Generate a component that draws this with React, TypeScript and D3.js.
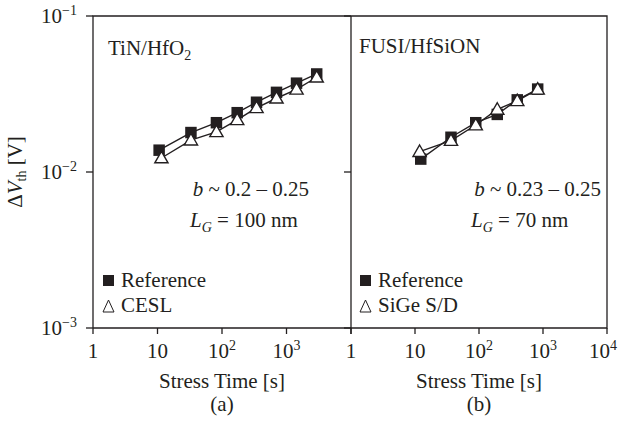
import React, { useEffect, useRef } from 'react';
import * as d3 from 'd3';

// panel (a) TiN/HfO2
const timeA = [10.6, 33, 82, 172, 343, 700, 1430, 2940];
const refA = [0.0138, 0.0179, 0.0207, 0.024, 0.028, 0.0324, 0.0371, 0.0425];
const timeCeslA = [11.5, 33, 82, 172, 343, 700, 1430, 2940];
const ceslA = [0.0123, 0.016, 0.0181, 0.0216, 0.0258, 0.0297, 0.0339, 0.0405];

// panel (b) FUSI/HfSiON
const timeB = [12.3, 36.5, 89, 193, 396, 826];
const refB = [0.0121, 0.0167, 0.0207, 0.0234, 0.029, 0.034];
const timeSigeB = [11.8, 36.5, 89, 193, 396, 826];
const sigeB = [0.0135, 0.0159, 0.02, 0.0252, 0.0286, 0.0339];

const xTicks = [1, 10, 100, 1000, 10000];
const xTickLabels = [['1', ''], ['10', ''], ['10', '2'], ['10', '3'], ['10', '4']];
const yTicks = [0.1, 0.01, 0.001];
const yTickLabels = ['\u22121', '\u22122', '\u22123'];

const INK = '#231f20';
const FONT = '"Liberation Serif", "DejaVu Serif", serif';
const FS = '21px';
const FS_SMALL = '14px';

const App: React.FC = () => {
  const ref = useRef<SVGSVGElement>(null);

  useEffect(() => {
    if (!ref.current) return;
    document.body.style.margin = '0';
    const svg = d3.select(ref.current);
    svg.selectAll('*').remove();

    const y = d3.scaleLog().domain([1e-3, 1e-1]).range([328, 16]);
    const xA = d3.scaleLog().domain([1, 1e4]).range([93, 351]);
    const xB = d3.scaleLog().domain([1, 1e4]).range([351, 607]);

    const g = svg.append('g').attr('font-family', FONT).attr('fill', INK);

    // cadre
    const frame = g.append('g').attr('stroke', INK).attr('stroke-width', 1.3).attr('fill', 'none');
    frame.append('path').attr('d', `M${xA.range()[0]},${y(1e-3)}V${y(1e-1)}H${xB.range()[1]}V${y(1e-3)}H${xA.range()[0]}`);
    frame.append('line').attr('x1', xB.range()[0]).attr('x2', xB.range()[0]).attr('y1', y(1e-1)).attr('y2', y(1e-3));

    // graduations y
    [xA.range()[0], xB.range()[0]].forEach(x0 => {
      yTicks.forEach(t => {
        frame.append('line').attr('x1', x0 - 7).attr('x2', x0).attr('y1', y(t)).attr('y2', y(t));
      });
    });
    yTicks.forEach((t, i) => {
      const txt = g.append('text').attr('x', xA.range()[0] - 16).attr('y', y(t) + 7)
        .attr('text-anchor', 'end').style('font-size', FS);
      txt.append('tspan').text('10');
      txt.append('tspan').attr('dy', -8).style('font-size', FS_SMALL).text(yTickLabels[i]);
    });

    // graduations x
    const drawX = (x: d3.ScaleLogarithmic<number, number>, skipLast: boolean, title: string, tag: string) => {
      xTicks.forEach((t, i) => {
        frame.append('line').attr('x1', x(t)).attr('x2', x(t)).attr('y1', y(1e-3)).attr('y2', y(1e-3) + 6);
        if (skipLast && i === xTicks.length - 1) return;
        const last = i === xTicks.length - 1;
        const txt = g.append('text').attr('x', last ? 617 : x(t)).attr('y', 358)
          .attr('text-anchor', last ? 'end' : 'middle').style('font-size', FS);
        txt.append('tspan').text(xTickLabels[i][0]);
        if (xTickLabels[i][1]) {
          txt.append('tspan').attr('dy', -8).style('font-size', FS_SMALL).text(xTickLabels[i][1]);
        }
      });
      const mid = (x.range()[0] + x.range()[1]) / 2;
      g.append('text').attr('x', mid).attr('y', 388).attr('text-anchor', 'middle').style('font-size', FS).text(title);
      g.append('text').attr('x', mid).attr('y', 411).attr('text-anchor', 'middle').style('font-size', FS).text(tag);
    };
    drawX(xA, true, 'Stress Time [s]', '(a)');
    drawX(xB, false, 'Stress Time [s]', '(b)');

    // titre y
    const yt = g.append('text').attr('transform', `translate(22,${y(0.01)}) rotate(-90)`)
      .attr('text-anchor', 'middle').style('font-size', FS);
    yt.append('tspan').text('\u0394');
    yt.append('tspan').attr('font-style', 'italic').text('V');
    yt.append('tspan').attr('dy', 4).style('font-size', FS_SMALL).text('th');
    yt.append('tspan').attr('dy', -4).text(' [V]');

    // séries
    const line = (x: d3.ScaleLogarithmic<number, number>) =>
      d3.line<[number, number]>().x(d => x(d[0])).y(d => y(d[1]));
    const sq = d3.symbol().type(d3.symbolSquare).size(132);
    const tri = d3.symbol().type(d3.symbolTriangle).size(76);

    const series = (x: d3.ScaleLogarithmic<number, number>, ts: number[], vs: number[]) => {
      const pts = ts.map((t, i) => [t, vs[i]] as [number, number]);
      g.append('path').datum(pts).attr('d', line(x)).attr('fill', 'none').attr('stroke', INK).attr('stroke-width', 1.4);
      return pts;
    };
    const marks = (x: d3.ScaleLogarithmic<number, number>, pts: [number, number][], filled: boolean) => {
      g.append('g').selectAll('path').data(pts).enter().append('path')
        .attr('transform', d => `translate(${x(d[0])},${y(d[1]) + (filled ? 0 : 1)})`)
        .attr('d', filled ? sq() : tri())
        .attr('fill', filled ? INK : '#fff')
        .attr('stroke', INK).attr('stroke-width', filled ? 0 : 1.4);
    };
    const pA1 = series(xA, timeA, refA);
    const pA2 = series(xA, timeCeslA, ceslA);
    const pB1 = series(xB, timeB, refB);
    const pB2 = series(xB, timeSigeB, sigeB);
    marks(xA, pA1, true);
    marks(xA, pA2, false);
    marks(xB, pB1, true);
    marks(xB, pB2, false);

    // annotations
    const label = (x: number, yy: number, main: string, sub?: string) => {
      const t = g.append('text').attr('x', x).attr('y', yy).style('font-size', FS);
      t.append('tspan').text(main);
      if (sub) t.append('tspan').attr('dy', 5).style('font-size', FS_SMALL).text(sub);
      return t;
    };
    label(108, 55, 'TiN/HfO', '2');
    label(359, 53, 'FUSI/HfSiON');

    const bText = (xr: number, val: string) => {
      const t = g.append('text').attr('x', xr).attr('y', 196).attr('text-anchor', 'end').style('font-size', FS);
      t.append('tspan').attr('font-style', 'italic').text('b');
      t.append('tspan').text(` ~ ${val}`);
    };
    bText(309, '0.2 \u2013 0.25');
    bText(601, '0.23 \u2013 0.25');

    const lText = (x0: number, val: string) => {
      const t = g.append('text').attr('x', x0).attr('y', 227).style('font-size', FS);
      t.append('tspan').attr('font-style', 'italic').text('L');
      t.append('tspan').attr('dy', 5).attr('font-style', 'italic').style('font-size', FS_SMALL).text('G');
      t.append('tspan').attr('dy', -5).text(` = ${val}`);
    };
    lText(190, '100 nm');
    lText(471, '70 nm');

    // légendes
    const legend = (x0: number, name: string) => {
      g.append('rect').attr('x', x0).attr('y', 275).attr('width', 11).attr('height', 11).attr('fill', INK);
      g.append('text').attr('x', x0 + 18).attr('y', 287).style('font-size', FS).text('Reference');
      g.append('path').attr('d', `M${x0},${312}L${x0 + 11},${312}L${x0 + 5.5},${300}Z`)
        .attr('fill', 'none').attr('stroke', INK).attr('stroke-width', 1);
      g.append('text').attr('x', x0 + 18).attr('y', 312).style('font-size', FS).text(name);
    };
    legend(103, 'CESL');
    legend(360, 'SiGe S/D');
  }, []);

  return <svg ref={ref} width={619} height={422} style={{ display: 'block', background: '#fff' }} />;
};

export default App;
